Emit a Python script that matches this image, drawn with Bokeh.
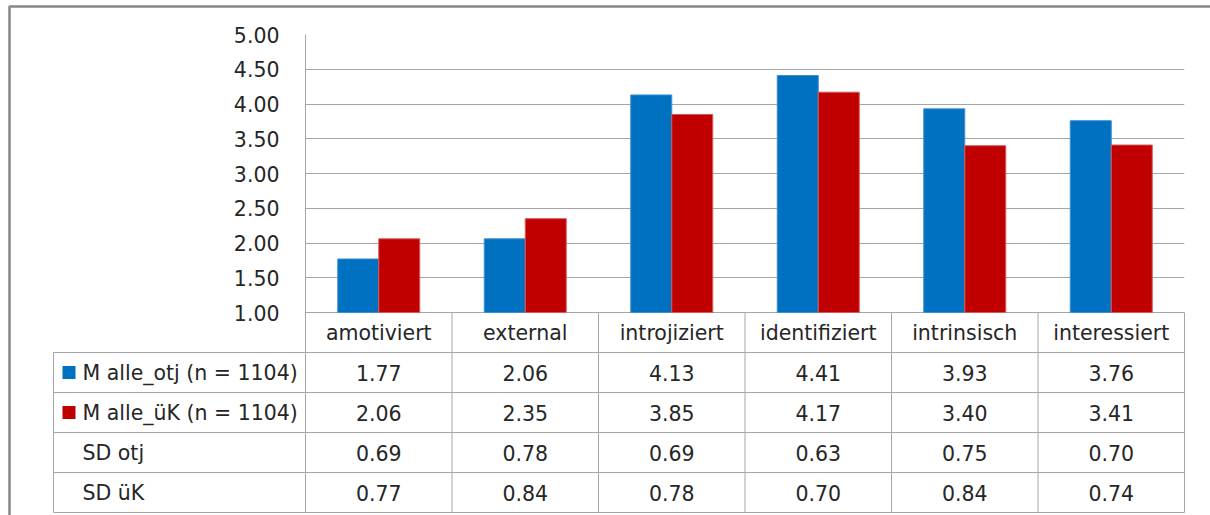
from bokeh.plotting import figure
from bokeh.models import (ColumnDataSource, FactorRange, Range1d, FixedTicker,
                          NumeralTickFormatter)
from bokeh.core.properties import value
from bokeh.transform import dodge
from bokeh.embed import file_html
from bokeh.resources import INLINE

# --- data ---------------------------------------------------------------
categories = ["amotiviert", "external", "introjiziert", "identifiziert",
              "intrinsisch", "interessiert"]
m_otj = [1.77, 2.06, 4.13, 4.41, 3.93, 3.76]
m_uek = [2.06, 2.35, 3.85, 4.17, 3.40, 3.41]
sd_otj = [0.69, 0.78, 0.69, 0.63, 0.75, 0.70]
sd_uek = [0.77, 0.84, 0.78, 0.70, 0.84, 0.74]
row_labels = ["M alle_otj (n = 1104)", "M alle_üK (n = 1104)", "SD otj", "SD üK"]
y_ticks = [1.0, 1.5, 2.0, 2.5, 3.0, 3.5, 4.0, 4.5, 5.0]

# --- styling / layout ---------------------------------------------------
W, H = 1210, 515
FONT = "DejaVu Sans"
FS = "20.5px"
TXT = "#262626"
BLUE, RED = "#0070C0", "#C00000"
GRID = "#A6A6A6"
BORDER = "#878787"

FRAME_L, FRAME_R, FRAME_T, FRAME_B = 305, 1184, 34, 512
ROW_PX = 40
CAT_PX = (FRAME_R - FRAME_L) / len(categories)
frame_h = FRAME_B - FRAME_T
plot_h = frame_h - 5 * ROW_PX           # value area above the data table
y_min, y_max = 1.0, 5.0
y_start = y_max - frame_h / plot_h * (y_max - y_min)

p = figure(width=W, height=H, output_backend="svg", toolbar_location=None,
           x_range=FactorRange(*categories), y_range=Range1d(y_start, y_max),
           x_axis_location=None, min_border_left=FRAME_L,
           min_border_right=W - FRAME_R, min_border_top=FRAME_T,
           min_border_bottom=H - FRAME_B)
p.extra_y_ranges = {"rows": Range1d(0, frame_h / ROW_PX)}
p.outline_line_color = None
p.background_fill_color = "white"
p.border_fill_color = "white"

# value axis and gridlines
yax = p.yaxis[0]
yax.ticker = FixedTicker(ticks=y_ticks)
yax.formatter = NumeralTickFormatter(format="0.00")
yax.major_tick_out = 0
yax.major_tick_in = 0
yax.minor_tick_line_color = None
yax.axis_line_color = GRID
yax.major_label_standoff = 26
yax.major_label_text_font = FONT
yax.major_label_text_font_size = FS
yax.major_label_text_color = TXT
p.xgrid.visible = False
p.ygrid.ticker = FixedTicker(ticks=y_ticks)
p.ygrid.grid_line_color = GRID
p.ygrid.grid_line_width = 1

# bars
src = ColumnDataSource(dict(cat=categories, otj=m_otj, uek=m_uek))
bw = 41 / CAT_PX
p.vbar(x=dodge("cat", -bw / 2, range=p.x_range), top="otj", bottom=y_min,
       width=bw, source=src, fill_color=BLUE, line_color="#3b8fd4", line_width=1)
p.vbar(x=dodge("cat", bw / 2, range=p.x_range), top="uek", bottom=y_min,
       width=bw, source=src, fill_color=RED, line_color="#d65a5a", line_width=1)

# data table beneath the chart (rows counted from the bottom)
n = len(categories)
leg_x0 = -(FRAME_L - 53) / CAT_PX       # left edge of the legend column
row_series = [m_otj, m_uek, sd_otj, sd_uek]
row_y = [3.5, 2.5, 1.5, 0.5]

# horizontal table rules
hx, hy = [], []
for r in [0, 1, 2, 3, 4]:
    hx.append([leg_x0, n])
    hy.append([r, r])
# vertical table rules
for c in range(1, n + 1):
    hx.append([c, c])
    hy.append([0, 5])
hx.append([leg_x0, leg_x0])
hy.append([0, 4])
p.multi_line(hx, hy, y_range_name="rows", line_color=GRID, line_width=1,
             level="overlay")

# category labels
p.text(x=categories, y=[4.5] * n, text=categories, y_range_name="rows",
       text_align="center", text_baseline="middle", text_font=value(FONT),
       text_font_size=FS, text_color=TXT, level="overlay")

# table values
for vals, yy in zip(row_series, row_y):
    p.text(x=categories, y=[yy] * n, text=[f"{v:.2f}" for v in vals],
           y_range_name="rows", text_align="center", text_baseline="middle",
           text_font=value(FONT), text_font_size=FS, text_color=TXT,
           level="overlay")

# row headers
lab_x = -(FRAME_L - 82) / CAT_PX
p.text(x=[lab_x] * 4, y=row_y, text=row_labels, y_range_name="rows",
       text_align="left", text_baseline="middle", text_font=value(FONT),
       text_font_size=FS, text_color=TXT, level="overlay")

# legend keys: short 13px-thick strokes give 13x13 colour squares
KEY = 13
key_x0 = -(FRAME_L - 62) / CAT_PX
key_x1 = key_x0 + KEY / CAT_PX
p.multi_line(xs=[[key_x0, key_x1], [key_x0, key_x1]],
             ys=[[row_y[0]] * 2, [row_y[1]] * 2], y_range_name="rows",
             line_color=[BLUE, RED], line_width=KEY, line_cap="butt",
             level="overlay")

# chart area border (left and top edges; the rest lies past the page)
bx = -(FRAME_L - 9) / CAT_PX
bx_end = (W - FRAME_L) / CAT_PX
by = (FRAME_B - 6) / ROW_PX
p.line(x=[bx, bx, bx_end], y=[-0.2, by, by], y_range_name="rows",
       line_color=BORDER, line_width=2.5, level="overlay")

open("out.html", "w").write(file_html(p, INLINE))
